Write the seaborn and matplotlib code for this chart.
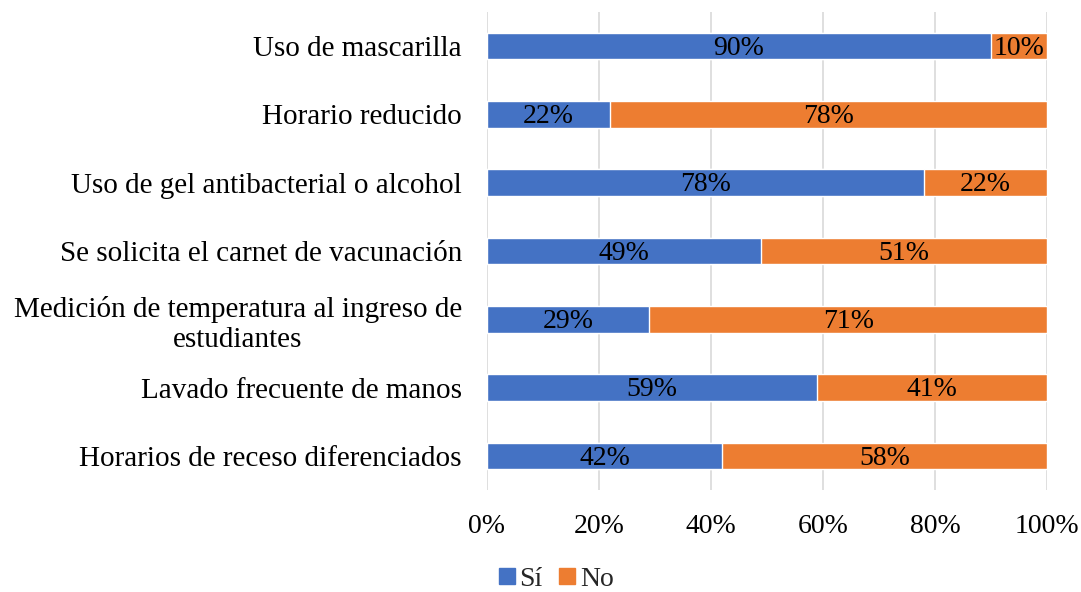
import matplotlib
matplotlib.use("Agg")
import matplotlib.pyplot as plt
import seaborn as sns
import pandas as pd
from matplotlib.lines import Line2D

categories = [
    "Uso de mascarilla",
    "Horario reducido",
    "Uso de gel antibacterial o alcohol",
    "Se solicita el carnet de vacunación",
    "Medición de temperatura al ingreso de\nestudiantes",
    "Lavado frecuente de manos",
    "Horarios de receso diferenciados",
]
si = [90, 22, 78, 49, 29, 59, 42]
no = [10, 78, 22, 51, 71, 41, 58]
xticks = [0, 20, 40, 60, 80, 100]

BLUE = "#4472C4"
ORANGE = "#ED7D31"

sns.set_theme(style="white")
plt.rcParams["font.family"] = ["Liberation Serif", "DejaVu Serif"]
FS_CAT = 21
FS_NUM = 20

df = pd.DataFrame({"cat": categories, "si": si, "no": no})
df["total"] = df["si"] + df["no"]

fig = plt.figure(figsize=(10.81, 5.92), dpi=100)
ax = fig.add_axes([0.4505, 0.172, 0.518, 0.808])

sns.barplot(data=df, y="cat", x="total", color=ORANGE, orient="h",
            width=0.39, saturation=1, ax=ax, zorder=3)
sns.barplot(data=df, y="cat", x="si", color=BLUE, orient="h",
            width=0.39, saturation=1, ax=ax, zorder=4)

for i, (s, n) in enumerate(zip(si, no)):
    ax.text(s / 2, i + 0.03, f"{s}%", ha="center", va="center",
            fontsize=FS_NUM, color="black", zorder=5)
    ax.text(s + n / 2, i + 0.03, f"{n}%", ha="center", va="center",
            fontsize=FS_NUM, color="black", zorder=5)

ax.set_xlim(0, 100)
ax.set_ylim(6.5, -0.5)
ax.set_xticks(xticks)
ax.set_xticklabels([f"{t}%" for t in xticks], fontsize=FS_NUM, color="black")
ax.set_yticks(range(len(categories)))
ax.set_yticklabels(categories, fontsize=FS_CAT, color="black",
                   multialignment="center")
ax.set_xlabel("")
ax.set_ylabel("")
ax.tick_params(axis="x", length=0, pad=17)
ax.tick_params(axis="y", length=0, pad=18)
ax.grid(axis="x", color="#D9D9D9", linewidth=1.2, zorder=0)
ax.grid(axis="y", visible=False)
for sp in ax.spines.values():
    sp.set_visible(False)

handles = [
    Line2D([], [], marker="s", linestyle="none", markersize=11,
           markerfacecolor=BLUE, markeredgecolor=BLUE, label="Sí"),
    Line2D([], [], marker="s", linestyle="none", markersize=11,
           markerfacecolor=ORANGE, markeredgecolor=ORANGE, label="No"),
]
fig.legend(handles=handles, loc="center", bbox_to_anchor=(0.513, 0.022),
           ncol=2, frameon=False, fontsize=FS_NUM, handletextpad=0.05,
           columnspacing=0.5, handlelength=0.8)

fig.savefig("out.png", dpi=100)
